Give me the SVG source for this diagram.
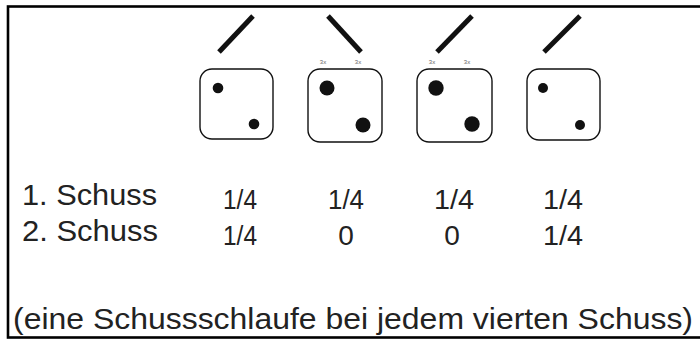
<svg xmlns="http://www.w3.org/2000/svg" width="700" height="343" viewBox="0 0 700 343">
<style>
.frame{fill:none;stroke:#000;stroke-width:2.6}
.die{fill:#fff;stroke:#111;stroke-width:1.4}
.dot{fill:#111}
.bar{stroke:#111;stroke-width:5;stroke-linecap:butt}
.lbl{font-family:"Liberation Sans",Arial,sans-serif;font-size:30px;fill:#222}
.num{font-family:"Liberation Sans",Arial,sans-serif;font-size:28px;fill:#222;text-anchor:middle}
.x3{font-family:"Liberation Sans",Arial,sans-serif;font-size:6px;fill:#666;text-anchor:middle}
</style>
<rect class="frame" x="8" y="6.5" width="700" height="331"/>
<g id="connectors"></g>
<g id="die1">
<line class="bar" x1="219" y1="52" x2="253" y2="16"/>
<rect class="die" x="200" y="69" width="73" height="70" rx="12"/>
<circle class="dot" cx="218" cy="88" r="5.3"/>
<circle class="dot" cx="254" cy="124" r="5.3"/>
</g>
<g id="die2">
<line class="bar" x1="328" y1="16" x2="361" y2="52"/>
<text class="x3" x="323" y="64">3x</text>
<text class="x3" x="358" y="64">3x</text>
<rect class="die" x="308" y="69" width="74" height="73" rx="12"/>
<circle class="dot" cx="327" cy="88" r="7.5"/>
<circle class="dot" cx="363" cy="125" r="7.5"/>
</g>
<g id="die3">
<line class="bar" x1="437" y1="52" x2="472" y2="16"/>
<text class="x3" x="432" y="64">3x</text>
<text class="x3" x="467" y="64">3x</text>
<rect class="die" x="417" y="69" width="75" height="73" rx="12"/>
<circle class="dot" cx="436" cy="88" r="7.7"/>
<circle class="dot" cx="472" cy="124" r="7.7"/>
</g>
<g id="die4">
<line class="bar" x1="544" y1="52" x2="580" y2="16"/>
<rect class="die" x="527" y="69" width="73" height="71" rx="12"/>
<circle class="dot" cx="543" cy="88" r="5"/>
<circle class="dot" cx="580" cy="125" r="5"/>
</g>
<g id="rows">
<text class="lbl" x="22" y="205" textLength="135" lengthAdjust="spacingAndGlyphs">1. Schuss</text>
<text class="lbl" x="22" y="241" textLength="136" lengthAdjust="spacingAndGlyphs">2. Schuss</text>
<text class="num" x="240" y="209" textLength="34" lengthAdjust="spacingAndGlyphs">1/4</text>
<text class="num" x="346" y="209" textLength="36" lengthAdjust="spacingAndGlyphs">1/4</text>
<text class="num" x="454" y="209" textLength="40" lengthAdjust="spacingAndGlyphs">1/4</text>
<text class="num" x="563" y="209" textLength="40" lengthAdjust="spacingAndGlyphs">1/4</text>
<text class="num" x="240" y="245" textLength="34" lengthAdjust="spacingAndGlyphs">1/4</text>
<text class="num" x="346" y="245">0</text>
<text class="num" x="452" y="245">0</text>
<text class="num" x="563" y="245" textLength="40" lengthAdjust="spacingAndGlyphs">1/4</text>
</g>
<text class="lbl" x="13" y="329" textLength="680" lengthAdjust="spacingAndGlyphs">(eine Schussschlaufe bei jedem vierten Schuss)</text>
</svg>
